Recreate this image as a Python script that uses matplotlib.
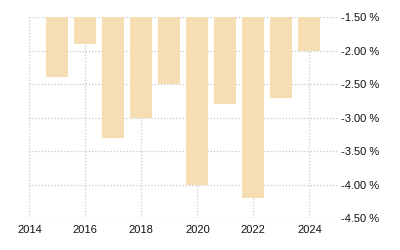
import matplotlib
matplotlib.use("Agg")
import matplotlib.pyplot as plt
from matplotlib.ticker import FuncFormatter

years = [2015, 2016, 2017, 2018, 2019, 2020, 2021, 2022, 2023, 2024]
values = [-2.4, -1.9, -3.3, -3.0, -2.5, -4.0, -2.8, -4.2, -2.7, -2.0]
x_ticks = [2014, 2016, 2018, 2020, 2022, 2024]
y_ticks = [-1.5, -2.0, -2.5, -3.0, -3.5, -4.0, -4.5]

plt.rcParams['font.family'] = ['Liberation Sans', 'DejaVu Sans']

fig = plt.figure(figsize=(4, 2.5), dpi=100)
ax = fig.add_axes([0.0733, 0.127, 0.77, 0.805])

ax.bar(years, values, width=0.79, color='#f5deb3', zorder=2)

ax.set_xlim(2014, 2025)
ax.set_ylim(-4.5, -1.5)
ax.set_xticks(x_ticks)
ax.set_yticks(y_ticks)
ax.yaxis.set_major_formatter(FuncFormatter(lambda v, p: '%.2f %%' % v))
ax.yaxis.tick_right()

ax.grid(True, linestyle=(0, (1, 1.5)), linewidth=0.9, color='#c8c8c8', zorder=0)
ax.set_axisbelow(True)
for s in ax.spines.values():
    s.set_visible(False)

ax.tick_params(axis='both', length=0, labelsize=8, colors='#111111')
ax.tick_params(axis='y', pad=3)
ax.tick_params(axis='x', pad=5)

fig.savefig('out.png', dpi=100)
